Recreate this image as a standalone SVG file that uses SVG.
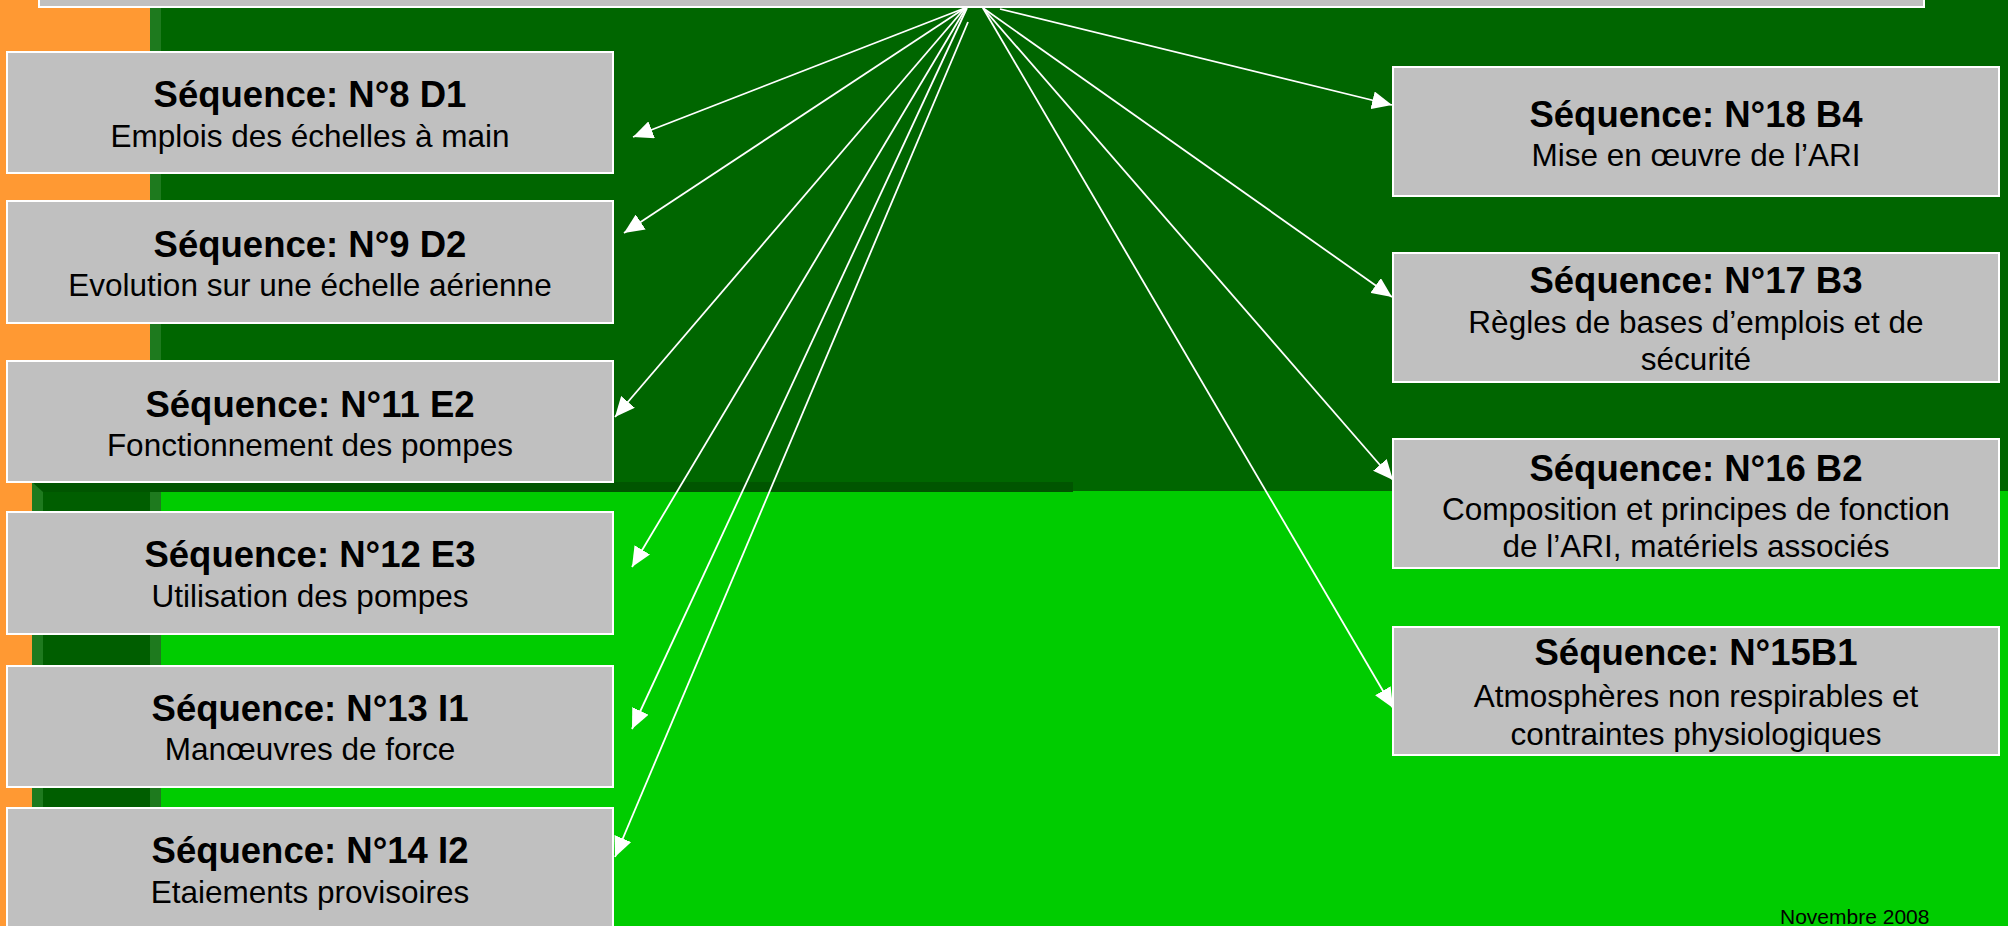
<svg xmlns="http://www.w3.org/2000/svg" width="2008" height="926" viewBox="0 0 2008 926">
<style>
.box{fill:#C0C0C0;stroke:#FFFFFF;stroke-width:2}
.t{font-family:"Liberation Sans",Arial,sans-serif;font-weight:bold;font-size:36.5px;fill:#000;text-anchor:middle}
.s{font-family:"Liberation Sans",Arial,sans-serif;font-size:31.5px;fill:#000;text-anchor:middle}
.c{fill:none;stroke:#FFFFFF;stroke-width:1.8}
</style>
<defs>
<marker id="ah" markerUnits="userSpaceOnUse" markerWidth="20" markerHeight="18" refX="20" refY="9" orient="auto">
<path d="M0,0 L20,9 L0,18 z" fill="#FFFFFF"/>
</marker>
</defs>
<g id="background">
<rect x="0" y="0" width="2008" height="926" fill="#00CC00"/>
<rect x="150" y="0" width="1858" height="491" fill="#006600"/>
<rect x="32" y="482" width="1041" height="10" fill="#005500"/>
<rect x="32" y="492" width="129" height="434" fill="#005E00"/>
<polygon points="32,482 43,492 43,926 32,926" fill="#1E7A1E"/>
<rect x="150" y="492" width="11" height="434" fill="#1E7A1E"/>
<rect x="150" y="0" width="11" height="482" fill="#1E7A1E"/>
<rect x="0" y="0" width="150" height="482" fill="#FF9933"/>
<rect x="0" y="482" width="32" height="444" fill="#FF9933"/>
</g>
<g id="connectors">
<line class="c" x1="965" y1="8" x2="633" y2="137" marker-end="url(#ah)"/>
<line class="c" x1="965" y1="8" x2="624" y2="233" marker-end="url(#ah)"/>
<line class="c" x1="965" y1="8" x2="615" y2="417" marker-end="url(#ah)"/>
<line class="c" x1="966" y1="8" x2="632" y2="567" marker-end="url(#ah)"/>
<line class="c" x1="967" y1="8" x2="632" y2="729" marker-end="url(#ah)"/>
<line class="c" x1="968" y1="22" x2="615" y2="857" marker-end="url(#ah)"/>
<line class="c" x1="1000" y1="9" x2="1392" y2="105" marker-end="url(#ah)"/>
<line class="c" x1="983" y1="8" x2="1392" y2="297" marker-end="url(#ah)"/>
<line class="c" x1="983" y1="8" x2="1393" y2="480" marker-end="url(#ah)"/>
<line class="c" x1="983" y1="8" x2="1393" y2="708" marker-end="url(#ah)"/>
</g>
<g id="top">
<rect class="box" x="39" y="-60" width="1885" height="67"/>
</g>
<g id="n8">
<rect class="box" x="7" y="52" width="606" height="121"/>
<text class="t" x="310" y="107">Séquence: N°8 D1</text>
<text class="s" x="310" y="147">Emplois des échelles à main</text>
</g>
<g id="n9">
<rect class="box" x="7" y="201" width="606" height="122"/>
<text class="t" x="310" y="257">Séquence: N°9 D2</text>
<text class="s" x="310" y="296">Evolution sur une échelle aérienne</text>
</g>
<g id="n11">
<rect class="box" x="7" y="361" width="606" height="121"/>
<text class="t" x="310" y="417">Séquence: N°11 E2</text>
<text class="s" x="310" y="456">Fonctionnement des pompes</text>
</g>
<g id="n12">
<rect class="box" x="7" y="512" width="606" height="122"/>
<text class="t" x="310" y="567">Séquence: N°12 E3</text>
<text class="s" x="310" y="607">Utilisation des pompes</text>
</g>
<g id="n13">
<rect class="box" x="7" y="666" width="606" height="121"/>
<text class="t" x="310" y="721">Séquence: N°13 I1</text>
<text class="s" x="310" y="760">Manœuvres de force</text>
</g>
<g id="n14">
<rect class="box" x="7" y="808" width="606" height="130"/>
<text class="t" x="310" y="863">Séquence: N°14 I2</text>
<text class="s" x="310" y="903">Etaiements provisoires</text>
</g>
<g id="n18">
<rect class="box" x="1393" y="67" width="606" height="129"/>
<text class="t" x="1696" y="127">Séquence: N°18 B4</text>
<text class="s" x="1696" y="166">Mise en œuvre de l’ARI</text>
</g>
<g id="n17">
<rect class="box" x="1393" y="253" width="606" height="129"/>
<text class="t" x="1696" y="293">Séquence: N°17 B3</text>
<text class="s" x="1696" y="333">Règles de bases d’emplois et de</text>
<text class="s" x="1696" y="370">sécurité</text>
</g>
<g id="n16">
<rect class="box" x="1393" y="439" width="606" height="129"/>
<text class="t" x="1696" y="481">Séquence: N°16 B2</text>
<text class="s" x="1696" y="520">Composition et principes de fonction</text>
<text class="s" x="1696" y="557">de l’ARI, matériels associés</text>
</g>
<g id="n15">
<rect class="box" x="1393" y="627" width="606" height="128"/>
<text class="t" x="1696" y="665">Séquence: N°15B1</text>
<text class="s" x="1696" y="707">Atmosphères non respirables et</text>
<text class="s" x="1696" y="745">contraintes physiologiques</text>
</g>
<g id="footer">
<text x="1780" y="924" font-family="'Liberation Sans',Arial,sans-serif" font-size="21" fill="#000">Novembre 2008</text>
</g>
</svg>
